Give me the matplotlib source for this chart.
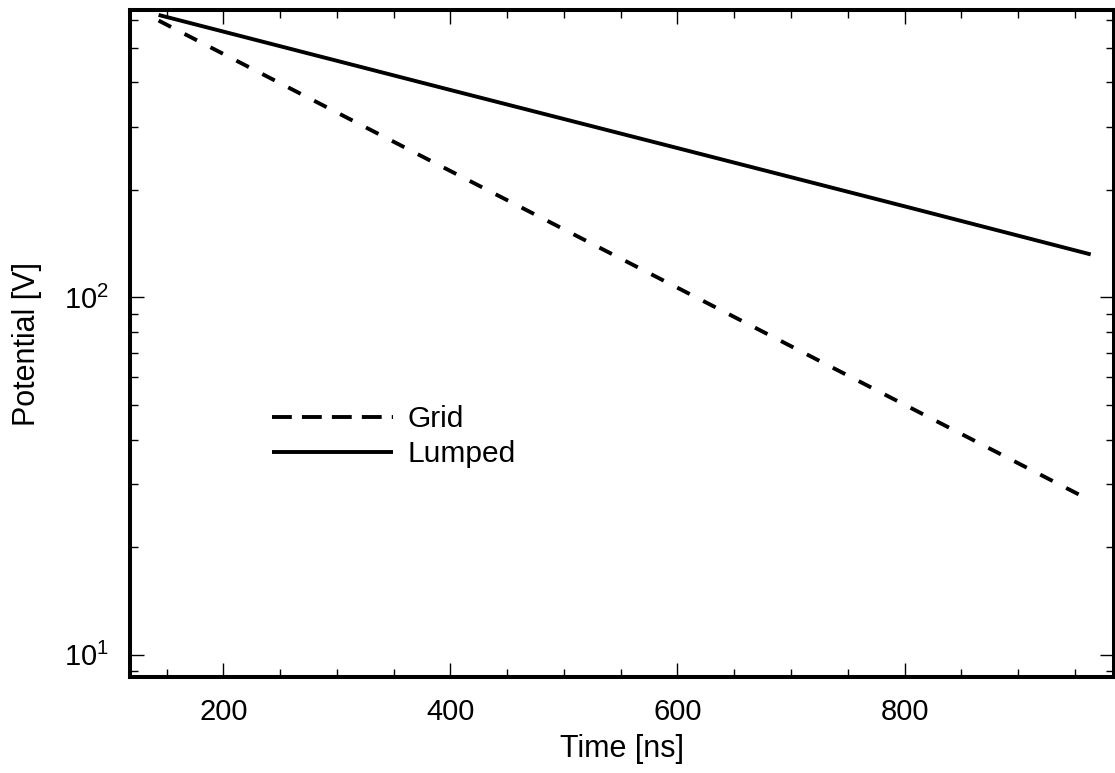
import matplotlib
matplotlib.use("Agg")
import matplotlib.pyplot as plt
from matplotlib.lines import Line2D
from matplotlib.ticker import LogLocator, MultipleLocator, NullFormatter

# Data (time in ns, potential in V)
time_ns = [143, 400, 600, 800, 964]
grid_v = [596, 226, 106.5, 50.1, 27.0]
lumped_v = [618, 381, 262, 180, 132]

series_labels = ["Grid", "Lumped"]
x_major_ticks = [200, 400, 600, 800]

plt.rcParams['font.family'] = ['Liberation Sans', 'DejaVu Sans']
plt.rcParams['mathtext.fontset'] = 'custom'
plt.rcParams['mathtext.rm'] = 'Liberation Sans'
plt.rcParams['mathtext.it'] = 'Liberation Sans'
plt.rcParams['mathtext.default'] = 'regular'

W, H = 1115, 773
fig = plt.figure(figsize=(W / 100, H / 100), dpi=100)
left, right, top, bottom = 130, 1114, 10, 677
ax = fig.add_axes([left / W, 1 - bottom / H, (right - left) / W, (bottom - top) / H])

lw = 2.8
ax.plot(time_ns, grid_v, color='black', lw=lw, linestyle=(0, (3.6, 3.9)),
        dash_capstyle='butt', solid_capstyle='butt')
ax.plot(time_ns, lumped_v, color='black', lw=lw, solid_capstyle='butt')

ax.set_yscale('log')
ax.set_xlim(117.8, 984.5)
ax.set_ylim(8.66, 638)

ax.set_xticks(x_major_ticks)
ax.xaxis.set_minor_locator(MultipleLocator(50))
ax.yaxis.set_major_locator(LogLocator(base=10, numticks=10))
ax.yaxis.set_minor_locator(LogLocator(base=10, subs=range(2, 10), numticks=10))
ax.yaxis.set_minor_formatter(NullFormatter())

ax.tick_params(which='both', direction='in', top=True, right=True, labelsize=21,
               color='black', width=1.0)
ax.tick_params(which='major', length=10, pad=15)
ax.tick_params(which='minor', length=5.5)

for s in ax.spines.values():
    s.set_linewidth(2.9)
    s.set_color('black')

ax.set_xlabel('Time [ns]', fontsize=22, labelpad=6)
ax.set_ylabel('Potential [V]', fontsize=22, labelpad=16)

handles = [
    Line2D([], [], color='black', lw=lw, linestyle=(0, (5.1, 2.6)), dash_capstyle='butt'),
    Line2D([], [], color='black', lw=lw, solid_capstyle='butt'),
]
ax.legend(handles, series_labels, frameon=False, fontsize=21.5,
          handlelength=4.05, handletextpad=0.5, labelspacing=0.25,
          loc='upper left', bbox_to_anchor=(263 / W, 1 - 396 / H),
          bbox_transform=fig.transFigure, borderaxespad=0, borderpad=0.3)

fig.savefig('out.png', dpi=100)
